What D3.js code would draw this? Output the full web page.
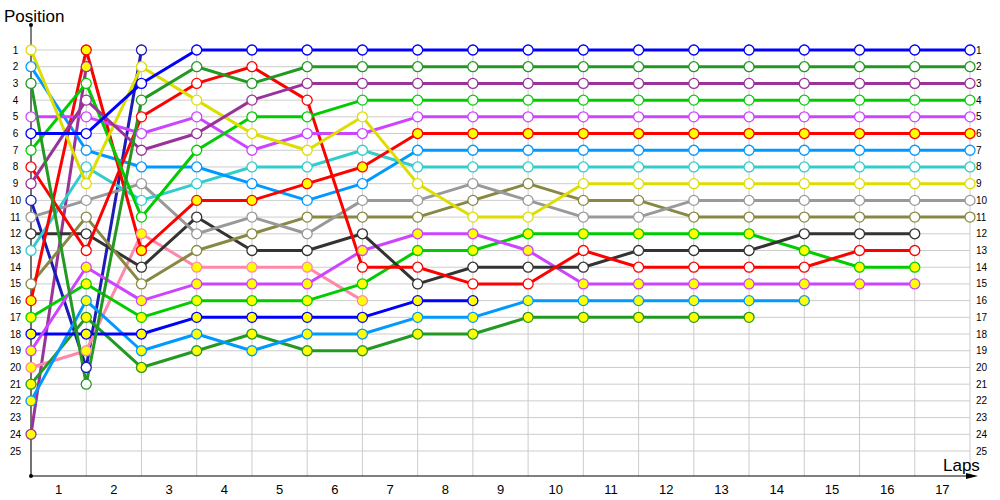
<!DOCTYPE html>
<html>
<head>
<meta charset="utf-8">
<script src="https://cdn.jsdelivr.net/npm/d3@7"></script>
<style>
  body { margin: 0; background: #fff; }
  text { font-family: "Liberation Sans", Arial, sans-serif; }
</style>
</head>
<body>
<div id="chart"></div>
<script>
// Lap indices and tick labels
const laps = d3.range(0, 18);
const lapLabels = d3.range(1, 18);
const positionTicks = d3.range(1, 26);

// Running position of each car, lap 0 (grid) onwards
const posBlue      = [6, 6, 3, 1, 1, 1, 1, 1, 1, 1, 1, 1, 1, 1, 1, 1, 1, 1];
const posDarkGreen = [3, 21, 4, 2, 3, 2, 2, 2, 2, 2, 2, 2, 2, 2, 2, 2, 2, 2];
const posPurple    = [9, 4, 7, 6, 4, 3, 3, 3, 3, 3, 3, 3, 3, 3, 3, 3, 3, 3];
const posGreen     = [7, 3, 11, 7, 5, 5, 4, 4, 4, 4, 4, 4, 4, 4, 4, 4, 4, 4];
const posMagenta   = [5, 5, 6, 5, 7, 6, 6, 5, 5, 5, 5, 5, 5, 5, 5, 5, 5, 5];
const posRed2      = [16, 1, 13, 10, 10, 9, 8, 6, 6, 6, 6, 6, 6, 6, 6, 6, 6, 6];
const posLightBlue = [2, 7, 8, 8, 9, 10, 9, 7, 7, 7, 7, 7, 7, 7, 7, 7, 7, 7];
const posCyan      = [13, 8, 10, 9, 8, 8, 7, 8, 8, 8, 8, 8, 8, 8, 8, 8, 8, 8];
const posYellow    = [1, 9, 2, 4, 6, 7, 5, 9, 11, 11, 9, 9, 9, 9, 9, 9, 9, 9];
const posGrey      = [11, 10, 9, 12, 11, 12, 10, 10, 9, 10, 11, 11, 10, 10, 10, 10, 10, 10];
const posOlive     = [15, 11, 15, 13, 12, 11, 11, 11, 10, 9, 10, 10, 11, 11, 11, 11, 11, 11];
const posDarkGrey  = [12, 12, 14, 11, 13, 13, 12, 15, 14, 14, 14, 13, 13, 13, 12, 12, 12];
const posRed       = [8, 13, 5, 3, 2, 4, 14, 14, 15, 15, 13, 14, 14, 14, 14, 13, 13];
const posMagenta2  = [19, 14, 16, 15, 15, 15, 13, 12, 12, 13, 15, 15, 15, 15, 15, 15, 15];
const posGreen2    = [17, 15, 17, 16, 16, 16, 15, 13, 13, 12, 12, 12, 12, 12, 13, 14, 14];
const posBlue2     = [18, 18, 18, 17, 17, 17, 17, 16, 16];
const posLightBlue2 = [22, 16, 19, 18, 19, 18, 18, 17, 17, 16, 16, 16, 16, 16, 16];
const posDarkGreen2 = [21, 17, 20, 19, 18, 19, 19, 18, 18, 17, 17, 17, 17, 17];
const posPink      = [20, 19, 12, 14, 14, 14, 16];
const posNavy      = [10, 20, 1];
const posPurple2   = [24, 2];

// chart geometry
const W = 1000, H = 500;
const x = d3.scaleLinear().domain([0, 17]).range([31, 970]);
const y = d3.scaleLinear().domain([1, 25]).range([50, 451]);
const axisY = 476;

// [positions, line colour, second car of team (yellow marker)]
const cars = [
  [posPurple2, '#993399', true],
  [posNavy, '#1c1cb8', false],
  [posPink, '#ff88aa', true],
  [posDarkGreen2, '#229922', true],
  [posLightBlue2, '#0099ff', true],
  [posBlue2, '#0000ff', true],
  [posGreen2, '#00cc00', true],
  [posMagenta2, '#cc44ff', true],
  [posDarkGrey, '#333333', false],
  [posOlive, '#888844', false],
  [posGrey, '#999999', false],
  [posCyan, '#33cccc', false],
  [posLightBlue, '#0099ff', false],
  [posRed, '#ff0000', false],
  [posRed2, '#ff0000', true],
  [posMagenta, '#cc44ff', false],
  [posGreen, '#00cc00', false],
  [posYellow, '#dddd00', false],
  [posPurple, '#993399', false],
  [posDarkGreen, '#229922', false],
  [posBlue, '#0000ff', false]
];

const svg = d3.select('#chart').append('svg')
  .attr('width', W)
  .attr('height', H);

// grid
svg.append('g').selectAll('line')
  .data(positionTicks)
  .enter().append('line')
  .attr('x1', x(0)).attr('x2', x(17))
  .attr('y1', d => y(d)).attr('y2', d => y(d))
  .attr('stroke', '#cccccc');

svg.append('g').selectAll('line')
  .data(laps)
  .enter().append('line')
  .attr('x1', d => x(d)).attr('x2', d => x(d))
  .attr('y1', 44).attr('y2', axisY)
  .attr('stroke', '#cccccc');

// axes
svg.append('line')
  .attr('x1', x(0)).attr('x2', x(0))
  .attr('y1', 25).attr('y2', axisY)
  .attr('stroke', '#000');
svg.append('line')
  .attr('x1', x(0)).attr('x2', 975)
  .attr('y1', axisY).attr('y2', axisY)
  .attr('stroke', '#000');
svg.append('circle').attr('cx', x(0)).attr('cy', 25).attr('r', 2).attr('fill', '#000');
svg.append('circle').attr('cx', x(0)).attr('cy', axisY).attr('r', 2).attr('fill', '#000');
svg.append('path')
  .attr('d', 'M966,' + (axisY - 3) + 'L978,' + axisY + 'L966,' + (axisY + 3) + 'Z')
  .attr('fill', '#000');

// tick labels
svg.append('g').selectAll('text')
  .data(positionTicks)
  .enter().append('text')
  .attr('x', 15.5)
  .attr('y', d => y(d) + 3.5)
  .attr('text-anchor', 'middle')
  .attr('font-size', 10)
  .text(d => d);

svg.append('g').selectAll('text')
  .data(positionTicks)
  .enter().append('text')
  .attr('x', 976)
  .attr('y', d => y(d) + 3.5)
  .attr('font-size', 10)
  .text(d => d);

svg.append('g').selectAll('text')
  .data(lapLabels)
  .enter().append('text')
  .attr('x', d => x(d - 0.5))
  .attr('y', 494)
  .attr('text-anchor', 'middle')
  .attr('font-size', 13)
  .text(d => d);

svg.append('text').attr('x', 4).attr('y', 22).attr('font-size', 17).text('Position');
svg.append('text').attr('x', 943).attr('y', 471).attr('font-size', 17).text('Laps');

// lines
const line = d3.line()
  .x((d, i) => x(i))
  .y(d => y(d));

svg.append('g').selectAll('path')
  .data(cars)
  .enter().append('path')
  .attr('d', d => line(d[0]))
  .attr('fill', 'none')
  .attr('stroke', d => d[1])
  .attr('stroke-width', 3)
  .attr('stroke-linejoin', 'round');

// markers
cars.forEach(function (c) {
  svg.append('g').selectAll('circle')
    .data(c[0])
    .enter().append('circle')
    .attr('cx', (d, i) => x(i))
    .attr('cy', d => y(d))
    .attr('r', 5)
    .attr('fill', c[2] ? '#ffff00' : '#ffffff')
    .attr('stroke', c[1])
    .attr('stroke-width', 1.3);
});
</script>
</body>
</html>
